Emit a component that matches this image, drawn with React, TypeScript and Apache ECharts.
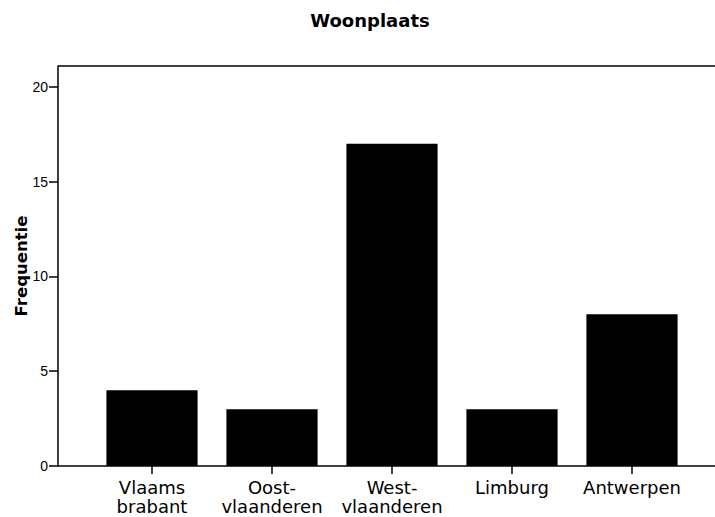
import React, { useEffect, useRef } from "react";
import * as echarts from "echarts";

const categories = ["Vlaams\nbrabant", "Oost-\nvlaanderen", "West-\nvlaanderen", "Limburg", "Antwerpen"];
const frequencies = [4, 3, 17, 3, 8];
const yTicks = [0, 5, 10, 15, 20];
const chartTitle = "Woonplaats";
const yTitle = "Frequentie";

export default function App() {
  const ref = useRef<HTMLDivElement>(null);
  useEffect(() => {
    if (!ref.current) return;
    const chart = echarts.init(ref.current, null, { renderer: "svg" });
    const gridTop = 66;
    const gridBottomY = 466;
    const axisX = 58;
    chart.setOption({
      animation: false,
      backgroundColor: "#ffffff",
      title: {
        text: chartTitle,
        left: 365,
        top: 6,
        textAlign: "center",
        textStyle: { fontFamily: "DejaVu Sans", fontWeight: "bold", fontSize: 18, color: "#000" },
      },
      grid: { left: 92, right: 23, top: gridTop, bottom: 517 - gridBottomY, containLabel: false },
      xAxis: {
        type: "category",
        data: categories,
        axisLine: { show: false },
        axisTick: { show: true, alignWithLabel: true, length: 8, lineStyle: { color: "#000", width: 1.5 } },
        axisLabel: {
          margin: 12,
          fontFamily: "DejaVu Sans",
          fontSize: 18,
          lineHeight: 19,
          color: "#000",
          interval: 0,
        },
      },
      yAxis: {
        type: "value",
        min: 0,
        max: 21.1,
        offset: 92 - axisX,
        splitLine: { show: false },
        axisLine: { show: true, lineStyle: { color: "#000", width: 1.5 } },
        axisTick: { show: true, length: 9, customValues: yTicks, lineStyle: { color: "#000", width: 1.5 } },
        axisLabel: {
          customValues: yTicks,
          margin: 10,
          fontFamily: "Liberation Sans",
          fontSize: 14,
          color: "#000",
        },
      },
      graphic: [
        {
          type: "line",
          shape: { x1: axisX, y1: gridTop, x2: 715, y2: gridTop },
          style: { stroke: "#000", lineWidth: 1.5 },
        },
        {
          type: "line",
          shape: { x1: axisX, y1: gridBottomY, x2: 715, y2: gridBottomY },
          style: { stroke: "#000", lineWidth: 1.5 },
        },
        {
          type: "text",
          x: 21,
          y: (gridTop + gridBottomY) / 2,
          rotation: Math.PI / 2,
          style: {
            text: yTitle,
            fontFamily: "DejaVu Sans",
            fontWeight: "bold",
            fontSize: 16.5,
            fill: "#000",
            align: "center",
            verticalAlign: "middle",
          },
        },
      ],
      series: [
        {
          type: "bar",
          data: frequencies,
          barCategoryGap: "24%",
          itemStyle: { color: "#000" },
        },
      ],
    });
    return () => chart.dispose();
  }, []);
  return <div ref={ref} style={{ position: "fixed", left: 0, top: 0, width: 715, height: 517 }} />;
}
